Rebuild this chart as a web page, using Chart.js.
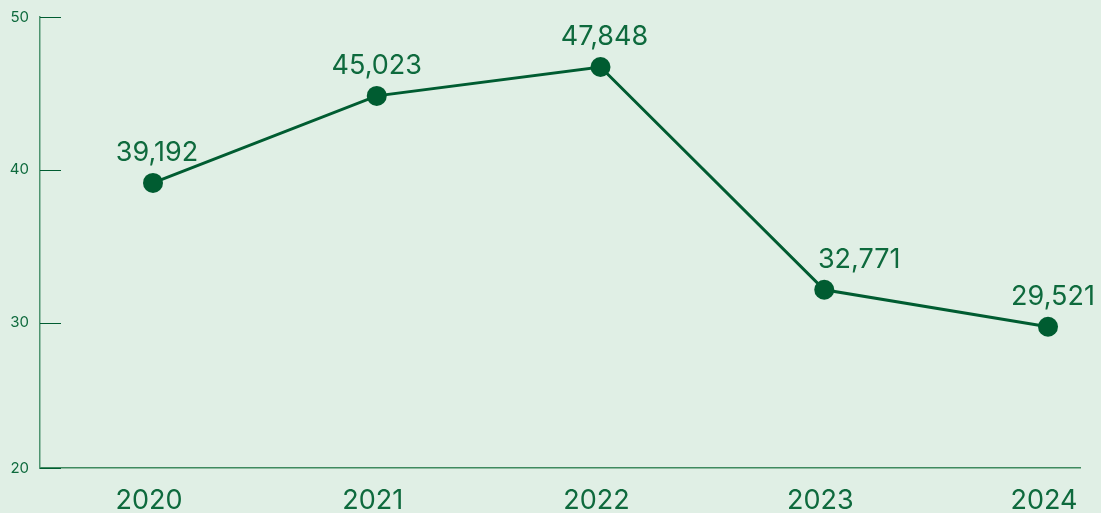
<!DOCTYPE html>
<html>
<head>
<meta charset="utf-8">
<script src="https://cdn.jsdelivr.net/npm/chart.js@4/dist/chart.umd.min.js"></script>
<style>
    html, body { margin: 0; padding: 0; background: #e0efe5; }
    #wrap { width: 1101px; height: 513px; }
</style>
</head>
<body>
<div id="wrap"><canvas id="chart" width="1101" height="513"></canvas></div>
<script>
const years = ['2020', '2021', '2022', '2023', '2024'];
const values = [39.15, 44.84, 46.73, 32.16, 29.74];
const valueLabels = ['39,192', '45,023', '47,848', '32,771', '29,521'];
const yTicks = [20, 30, 40, 50];

const green = '#005c31';
const textGreen = '#0e6a3d';
const fontFamily = 'Inter, "Noto Sans", sans-serif';

// small horizontal nudges for the value labels (the 2023 one sits right of the line)
const labelShift = [4, 0, 4, 35, 5];

const valueLabelPlugin = {
    id: 'valueLabels',
    afterDatasetsDraw(chart) {
        const ctx = chart.ctx;
        const meta = chart.getDatasetMeta(0);
        ctx.save();
        ctx.font = '27px ' + fontFamily;
        ctx.fillStyle = textGreen;
        ctx.textAlign = 'center';
        ctx.textBaseline = 'alphabetic';
        meta.data.forEach((pt, i) => {
            ctx.fillText(valueLabels[i], pt.x + labelShift[i], pt.y - 22);
        });
        ctx.restore();
    }
};

// tick marks point into the plot area
const innerTicksPlugin = {
    id: 'innerTicks',
    afterDraw(chart) {
        const ctx = chart.ctx;
        const y = chart.scales.y;
        const left = chart.chartArea.left;
        ctx.save();
        ctx.strokeStyle = green;
        ctx.lineWidth = 1;
        y.ticks.forEach(t => {
            const py = Math.round(y.getPixelForValue(t.value)) + 0.5;
            ctx.beginPath();
            ctx.moveTo(left, py);
            ctx.lineTo(left + 21, py);
            ctx.stroke();
        });
        ctx.restore();
    }
};

new Chart(document.getElementById('chart'), {
    type: 'line',
    data: {
        datasets: [{
            data: values.map((v, i) => ({ x: i, y: v })),
            borderColor: green,
            backgroundColor: green,
            borderWidth: 3,
            pointRadius: 10,
            pointHoverRadius: 10,
            pointBackgroundColor: green,
            pointBorderWidth: 0,
            tension: 0,
            clip: false
        }]
    },
    options: {
        responsive: false,
        animation: false,
        layout: { padding: { top: 17, right: 21, left: 0, bottom: 0 } },
        plugins: {
            legend: { display: false },
            tooltip: { enabled: false }
        },
        scales: {
            x: {
                type: 'linear',
                min: -0.505,
                max: 4.143,
                afterBuildTicks: scale => {
                    scale.ticks = years.map((_, i) => ({ value: i }));
                },
                afterFit: scale => { scale.height = 45; scale.paddingLeft = 0; scale.paddingRight = 0; },
                grid: { display: false, drawTicks: false },
                border: { display: true, color: '#3f8a5f', width: 1.5 },
                ticks: {
                    callback: v => years[v],
                    color: textGreen,
                    font: { family: fontFamily, size: 27 },
                    padding: 17,
                    labelOffset: -4,
                    maxRotation: 0
                }
            },
            y: {
                min: 20.5,
                max: 50,
                afterBuildTicks: scale => {
                    scale.ticks = yTicks.map(v => ({ value: Math.max(v, scale.min) }));
                },
                afterFit: scale => { scale.width = 40; scale.paddingTop = 0; scale.paddingBottom = 0; },
                grid: { display: false, drawTicks: false },
                border: { display: true, color: '#4e9470', width: 1.5 },
                ticks: {
                    callback: (v, i) => String(yTicks[i]),
                    color: textGreen,
                    font: { family: fontFamily, size: 15 },
                    padding: 11
                }
            }
        }
    },
    plugins: [valueLabelPlugin, innerTicksPlugin]
});
</script>
</body>
</html>
